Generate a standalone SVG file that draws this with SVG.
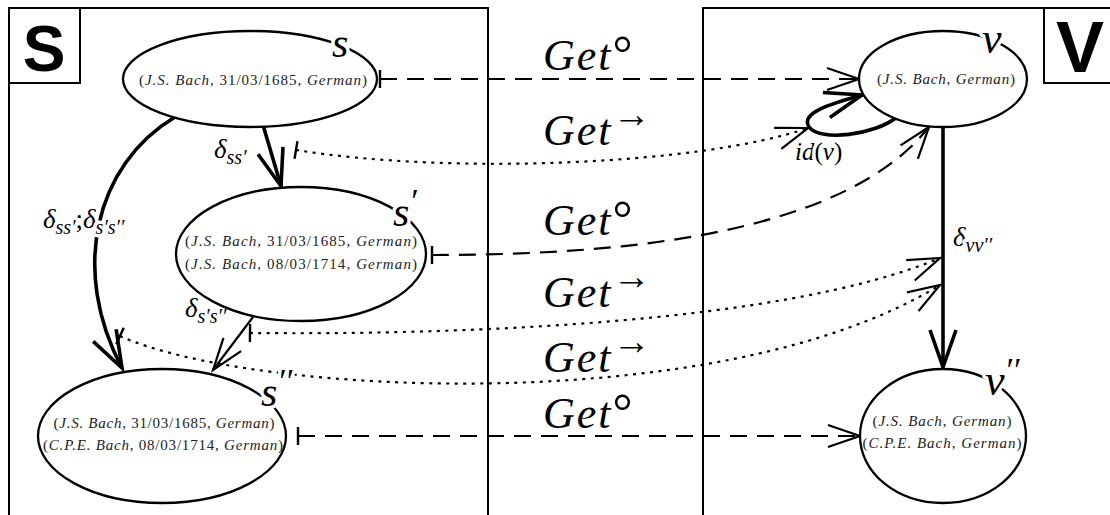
<svg xmlns="http://www.w3.org/2000/svg" width="1110" height="515" viewBox="0 0 1110 515">
<style>
.frame{fill:none;stroke:#000;stroke-width:2}
.ell{fill:#fff;stroke:#000;stroke-width:2.3}
.tup{font-family:"Liberation Serif",serif;font-size:15px;fill:#222}
.i{font-style:italic}
.lab{font-family:"Liberation Serif",serif;font-style:italic;fill:#000}
.halo{stroke:#fff;stroke-width:7;paint-order:stroke;stroke-linejoin:round}
.get{font-family:"Liberation Serif",serif;font-style:italic;font-size:44px;letter-spacing:2px}
.up{font-style:normal}
.dash{fill:none;stroke:#000;stroke-width:2.2;stroke-dasharray:17 10}
.dot{fill:none;stroke:#000;stroke-width:2.2;stroke-dasharray:3 5.5}
.thin{fill:none;stroke:#000;stroke-width:2.2}
.thick{fill:none;stroke:#000;stroke-width:3.6}
.box{font-family:"Liberation Sans",sans-serif;font-weight:bold;text-anchor:middle}
</style>
<defs>
<marker id="ah" markerUnits="userSpaceOnUse" markerWidth="50" markerHeight="30" orient="auto" overflow="visible" refX="0" refY="0">
<path d="M-32,-11 L0,0 L-32,11" fill="none" stroke="#000" stroke-width="2.2"/>
</marker>
<marker id="ahT" markerUnits="userSpaceOnUse" markerWidth="50" markerHeight="30" orient="auto" overflow="visible" refX="0" refY="0">
<path d="M-37,-13 L0,0 L-37,13" fill="none" stroke="#000" stroke-width="3.6"/>
</marker>
<marker id="bar" markerUnits="userSpaceOnUse" markerWidth="10" markerHeight="30" orient="auto" overflow="visible" refX="0" refY="0">
<path d="M0,-9 L0,9" fill="none" stroke="#000" stroke-width="2.4"/>
</marker>
</defs>
<rect width="1110" height="515" fill="#fff"/>

<g id="frameS">
<path class="frame" d="M9,515 V8 H488 V515"/>
<path class="frame" d="M9,83 H80 V8"/>
<text class="box" x="44" y="71" font-size="64">S</text>
</g>
<g id="frameV">
<path class="frame" d="M703,515 V8 H1110"/>
<path class="frame" d="M1110,83 H1044 V8"/>
<text class="box" x="1080" y="72" font-size="72">V</text>
</g>

<g id="connectors">
<path class="dash" d="M380,79 H859" marker-start="url(#bar)" marker-end="url(#ah)"/>
<path class="dot" d="M296,150 C450,175 700,165 808,128" marker-start="url(#bar)" marker-end="url(#ah)"/>
<path class="dash" d="M432,255 C600,255 840,240 929,127" marker-start="url(#bar)" marker-end="url(#ah)"/>
<path class="dot" d="M250,333 C450,335 780,325 940,258" marker-start="url(#bar)" marker-end="url(#ah)"/>
<path class="dot" d="M120,336 C250,395 720,420 940,285" marker-start="url(#bar)" marker-end="url(#ah)"/>
<path class="dash" d="M298,436 H860" marker-start="url(#bar)" marker-end="url(#ah)"/>
<path class="thick" d="M263,125 L281,186" marker-end="url(#ahT)"/>
<path class="thick" d="M175,117 C95,165 70,270 122,368" marker-end="url(#ahT)"/>
<path class="thin" d="M253,317 L213,370" marker-end="url(#ah)"/>
<path class="thick" d="M943,126 V367" marker-end="url(#ahT)"/>
<path class="thick" d="M897,117 C875,135 820,142 809,127 C800,113 830,104 862,95" marker-end="url(#ahT)"/>
</g>

<g id="edge-labels">
<text class="get" x="543" y="70">Get<tspan class="up" font-size="50">°</tspan></text>
<text class="get" x="543" y="145">Get<tspan class="up" font-size="38" dy="-18">→</tspan></text>
<text class="get" x="543" y="235">Get<tspan class="up" font-size="50">°</tspan></text>
<text class="get" x="543" y="307">Get<tspan class="up" font-size="38" dy="-18">→</tspan></text>
<text class="get" x="543" y="372">Get<tspan class="up" font-size="38" dy="-18">→</tspan></text>
<text class="get" x="543" y="428">Get<tspan class="up" font-size="50">°</tspan></text>
<text class="lab halo" x="214" y="158" font-size="27">δ<tspan font-size="20" dy="6">ss′</tspan></text>
<text class="lab halo" x="43" y="228" font-size="27">δ<tspan font-size="20" dy="6">ss′</tspan><tspan class="up" font-size="27" dy="-6">;</tspan>δ<tspan font-size="20" dy="6">s′s′′</tspan></text>
<text class="lab halo" x="185" y="317" font-size="27">δ<tspan font-size="20" dy="6">s′s′′</tspan></text>
<text class="lab halo" x="953" y="246" font-size="27">δ<tspan font-size="20" dy="6">vv′′</tspan></text>
<text class="lab halo" x="795" y="160" font-size="25">id<tspan class="up">(</tspan>v<tspan class="up">)</tspan></text>
</g>

<g id="node-s">
<ellipse class="ell" cx="250" cy="79" rx="127" ry="48"/>
<text class="tup" x="253" y="85" text-anchor="middle" textLength="228">(<tspan class="i">J.S. Bach</tspan>, 31/03/1685, <tspan class="i">German</tspan>)</text>
<text class="lab halo" x="332" y="57" font-size="42">s</text>
</g>
<g id="node-s1">
<ellipse class="ell" cx="301" cy="254" rx="125" ry="67"/>
<text class="tup" x="301" y="246" text-anchor="middle" textLength="232">(<tspan class="i">J.S. Bach</tspan>, 31/03/1685, <tspan class="i">German</tspan>)</text>
<text class="tup" x="301" y="269" text-anchor="middle" textLength="232">(<tspan class="i">J.S. Bach</tspan>, 08/03/1714, <tspan class="i">German</tspan>)</text>
<text class="lab halo" x="393" y="226" font-size="42">s<tspan font-size="34" dy="-14">′</tspan></text>
</g>
<g id="node-s2">
<ellipse class="ell" cx="162" cy="436" rx="124" ry="67"/>
<text class="tup" x="164" y="428" text-anchor="middle" textLength="221">(<tspan class="i">J.S. Bach</tspan>, 31/03/1685, <tspan class="i">German</tspan>)</text>
<text class="tup" x="163" y="450" text-anchor="middle" textLength="240">(<tspan class="i">C.P.E. Bach</tspan>, 08/03/1714, <tspan class="i">German</tspan>)</text>
<text class="lab halo" x="261" y="406" font-size="42">s<tspan font-size="34" dy="-14">′′</tspan></text>
</g>
<g id="node-v">
<ellipse class="ell" cx="943" cy="79" rx="84" ry="48"/>
<text class="tup" x="946" y="84" text-anchor="middle" textLength="138">(<tspan class="i">J.S. Bach</tspan>, <tspan class="i">German</tspan>)</text>
<text class="lab halo" x="982" y="53" font-size="44">v</text>
</g>
<g id="node-v2">
<ellipse class="ell" cx="943" cy="436" rx="83" ry="67"/>
<text class="tup" x="942" y="426" text-anchor="middle" textLength="139">(<tspan class="i">J.S. Bach</tspan>, <tspan class="i">German</tspan>)</text>
<text class="tup" x="942" y="448" text-anchor="middle" textLength="159">(<tspan class="i">C.P.E. Bach</tspan>, <tspan class="i">German</tspan>)</text>
<text class="lab halo" x="985" y="395" font-size="44">v<tspan font-size="34" dy="-14">′′</tspan></text>
</g>
</svg>
